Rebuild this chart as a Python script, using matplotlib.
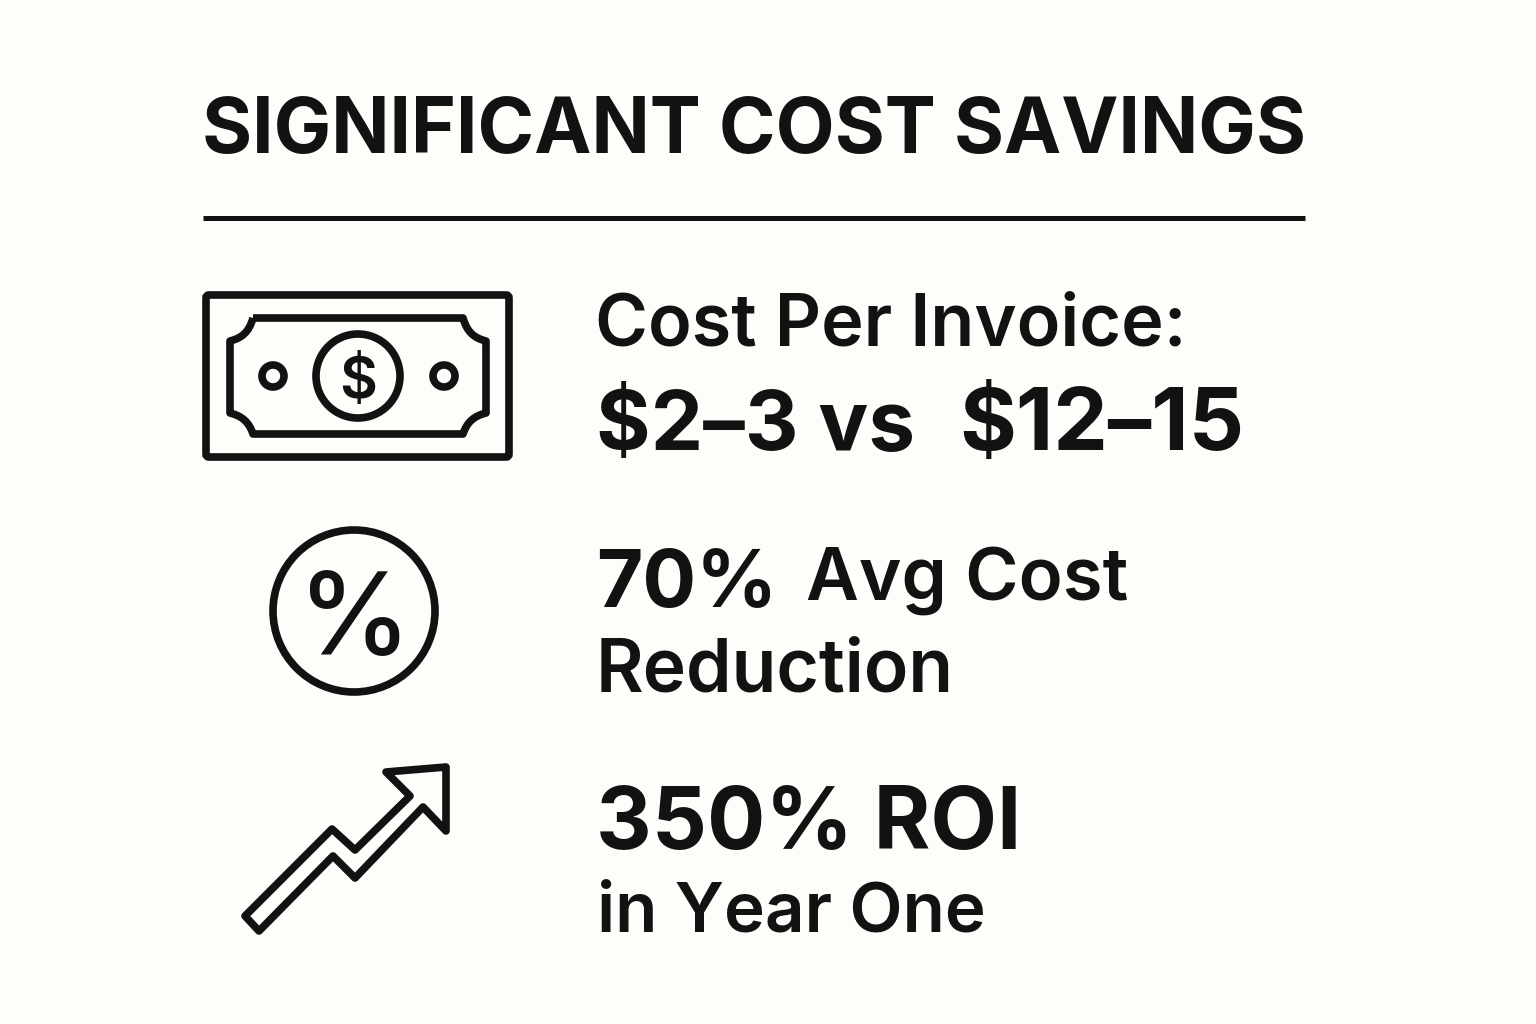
import matplotlib
matplotlib.use("Agg")
import matplotlib.pyplot as plt
from matplotlib.patches import Circle, FancyBboxPatch, Polygon, PathPatch
from matplotlib.path import Path

plt.rcParams['font.family'] = ['Inter', 'DejaVu Sans']

INK = '#111312'
BG = '#fdfdfa'

title = "SIGNIFICANT COST SAVINGS"
cost_label = "Cost Per Invoice:"
cost_new = "$2–3 vs"
cost_old = "$12–15"
pct_value = "70%"
pct_label = ["Avg Cost", "Reduction"]
roi_value = "350% ROI"
roi_label = "in Year One"

# outline of the trend arrow in pixels
arrow_x = [245, 332, 355, 410, 386, 446, 446, 423, 355, 333, 259]
arrow_y = [916, 829, 850, 796, 772, 767, 831, 807, 878, 856, 931]

fig = plt.figure(figsize=(15.36, 10.24), dpi=100, facecolor=BG)
ax = fig.add_axes([0, 0, 1, 1])
ax.set_xlim(0, 1536)
ax.set_ylim(1024, 0)
ax.axis('off')

LW = 5.5

ax.text(202, 153, title, fontsize=55.2, fontweight='bold', color=INK, va='baseline')
ax.plot([203, 1305], [218, 218], color=INK, lw=3.6, solid_capstyle='butt')

# banknote
ax.add_patch(FancyBboxPatch((206, 295), 303, 162, boxstyle="round,pad=0,rounding_size=3",
                            fill=False, ec=INK, lw=LW))
note = Path(
    [(253, 318), (463, 318), (467, 332), (474, 338), (486, 341), (486, 413), (474, 416), (467, 422),
     (463, 434), (253, 434), (249, 422), (242, 416), (230, 413), (230, 341), (242, 338), (249, 332),
     (253, 318)],
    [Path.MOVETO, Path.LINETO, Path.CURVE4, Path.CURVE4, Path.CURVE4, Path.LINETO, Path.CURVE4, Path.CURVE4,
     Path.CURVE4, Path.LINETO, Path.CURVE4, Path.CURVE4, Path.CURVE4, Path.LINETO, Path.CURVE4, Path.CURVE4,
     Path.CURVE4])
ax.add_patch(PathPatch(note, fill=False, ec=INK, lw=LW, joinstyle='round'))
ax.add_patch(Circle((358, 376), 42, fill=False, ec=INK, lw=LW))
ax.add_patch(Circle((273, 376), 11, fill=False, ec=INK, lw=LW))
ax.add_patch(Circle((444, 376), 11, fill=False, ec=INK, lw=LW))
ax.text(358, 398, "$", fontsize=42, color=INK, ha='center', va='baseline', fontweight='semibold')

# percent badge
ax.add_patch(Circle((354, 611), 81, fill=False, ec=INK, lw=LW))
ax.text(355, 654, "%", fontsize=82, color=INK, ha='center', va='baseline', fontweight='medium')

# trend arrow
ax.add_patch(Polygon(list(zip(arrow_x, arrow_y)), closed=True, fill=False, ec=INK, lw=LW, joinstyle='round'))

ax.text(595, 346, cost_label, fontsize=51.8, fontweight='semibold', color=INK, va='baseline')
ax.text(596, 450, cost_new, fontsize=60, fontweight='bold', color=INK, va='baseline')
ax.text(959, 450, cost_old, fontsize=62.5, fontweight='bold', color=INK, va='baseline')
ax.text(596, 607, pct_value, fontsize=57.5, fontweight='bold', color=INK, va='baseline')
ax.text(806, 600, pct_label[0], fontsize=52.3, fontweight='semibold', color=INK, va='baseline')
ax.text(596, 691, pct_label[1], fontsize=52.7, fontweight='semibold', color=INK, va='baseline')
ax.text(596, 849, roi_value, fontsize=62.2, fontweight='bold', color=INK, va='baseline')
ax.text(597, 931, roi_label, fontsize=49.8, fontweight='semibold', color=INK, va='baseline')

fig.savefig("out.png", dpi=100, facecolor=BG)
